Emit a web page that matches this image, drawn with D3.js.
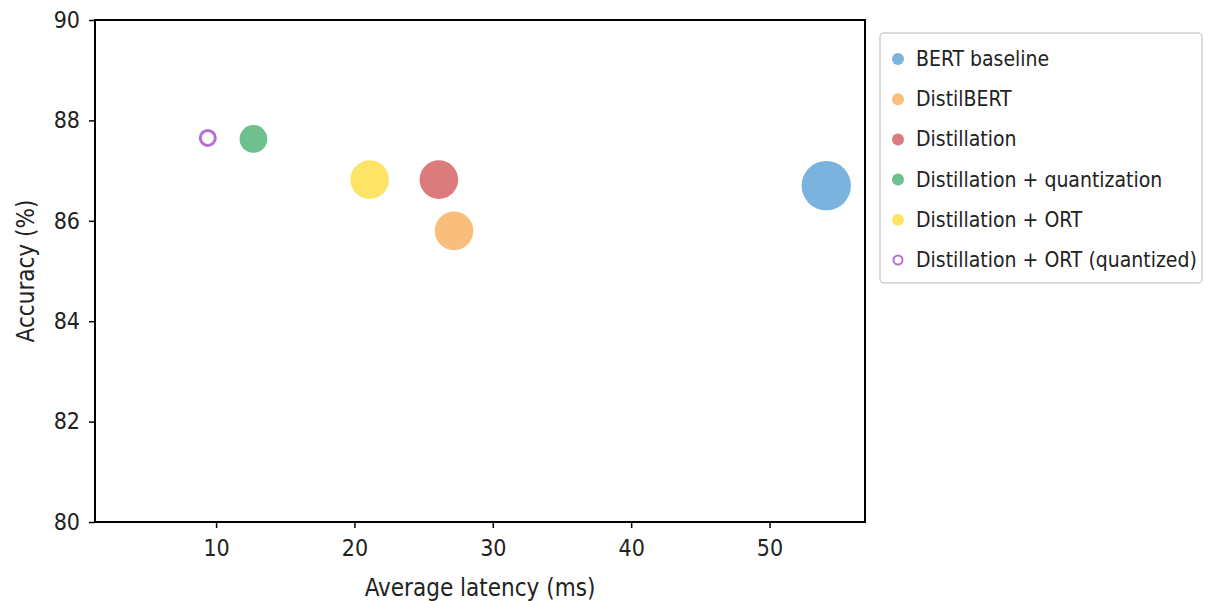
<!DOCTYPE html>
<html><head><meta charset="utf-8">
<script src="https://cdn.jsdelivr.net/npm/d3@7"></script>
<style>body{margin:0;background:#fff}svg{display:block}text{font-family:"DejaVu Sans Condensed","Liberation Sans Narrow",sans-serif;fill:#222}</style>
</head><body><svg id="c" width="1205" height="601"></svg>
<script>
const models = ["BERT baseline","DistilBERT","Distillation","Distillation + quantization","Distillation + ORT","Distillation + ORT (quantized)"];
const latency = [54.1, 27.2, 26.1, 12.7, 21.1, 9.4];
const accuracy = [86.7, 85.8, 86.82, 87.63, 86.82, 87.65];
const sizeMB = [418, 255, 255, 132, 255, 64];
const colors = ["#7bb3df","#f9bd7c","#dc7b7e","#6fc08f","#fde466","#b56fd6"];
const xTicks = [10,20,30,40,50];
const yTicks = [80,82,84,86,88,90];

const svg = d3.select("#c");
const L=95,R=865,T=20,B=522;
const x = d3.scaleLinear().domain([1.25,56.9]).range([L,R]);
const y = d3.scaleLinear().domain([80,90]).range([B,T]);
const r = d3.scaleSqrt().domain([0,418]).range([0,24.7]);

svg.append("g").attr("transform",`translate(0,${B})`)
  .call(d3.axisBottom(x).tickValues(xTicks).tickSize(6).tickPadding(12))
  .call(g=>{g.select(".domain").remove();g.selectAll("line").attr("stroke","#000").attr("stroke-width",1.5);
    g.selectAll("text").attr("font-size",23).attr("font-family","DejaVu Sans Condensed, sans-serif").attr("fill","#222");});
svg.append("g").attr("transform",`translate(${L},0)`)
  .call(d3.axisLeft(y).tickValues(yTicks).tickSize(6).tickPadding(9))
  .call(g=>{g.select(".domain").remove();g.selectAll("line").attr("stroke","#000").attr("stroke-width",1.5);
    g.selectAll("text").attr("font-size",23).attr("font-family","DejaVu Sans Condensed, sans-serif").attr("fill","#222");});

const idx = d3.range(models.length);
svg.append("g").selectAll("circle").data(idx).join("circle")
  .attr("cx",i=>x(latency[i])).attr("cy",i=>y(accuracy[i]))
  .attr("r",i=>i===5?7.5:r(sizeMB[i]))
  .attr("fill",i=>i===5?"none":colors[i])
  .attr("stroke",i=>i===5?colors[i]:"none")
  .attr("stroke-width",3);

svg.append("rect").attr("x",L).attr("y",T).attr("width",R-L).attr("height",B-T)
  .attr("fill","none").attr("stroke","#000").attr("stroke-width",2);

svg.append("text").attr("x",(L+R)/2).attr("y",596).attr("text-anchor","middle").attr("font-size",24).text("Average latency (ms)");
svg.append("text").attr("transform",`translate(34,${(T+B)/2}) rotate(-90)`).attr("text-anchor","middle").attr("font-size",24).text("Accuracy (%)");

const lg = svg.append("g");
lg.append("rect").attr("x",880).attr("y",33).attr("width",322).attr("height",250).attr("rx",4)
  .attr("fill","#fff").attr("stroke","#d0d0d0").attr("stroke-width",1.5);
const it = lg.selectAll("g.it").data(idx).join("g").attr("class","it")
  .attr("transform",i=>`translate(0,${58+i*40.2})`);
it.append("circle").attr("cx",898).attr("cy",1).attr("r",i=>i===5?4.5:6)
  .attr("fill",i=>i===5?"none":colors[i]).attr("stroke",i=>i===5?colors[i]:"none").attr("stroke-width",2);
it.append("text").attr("x",916).attr("y",8).attr("font-size",21).text(i=>models[i]);
</script></body></html>
